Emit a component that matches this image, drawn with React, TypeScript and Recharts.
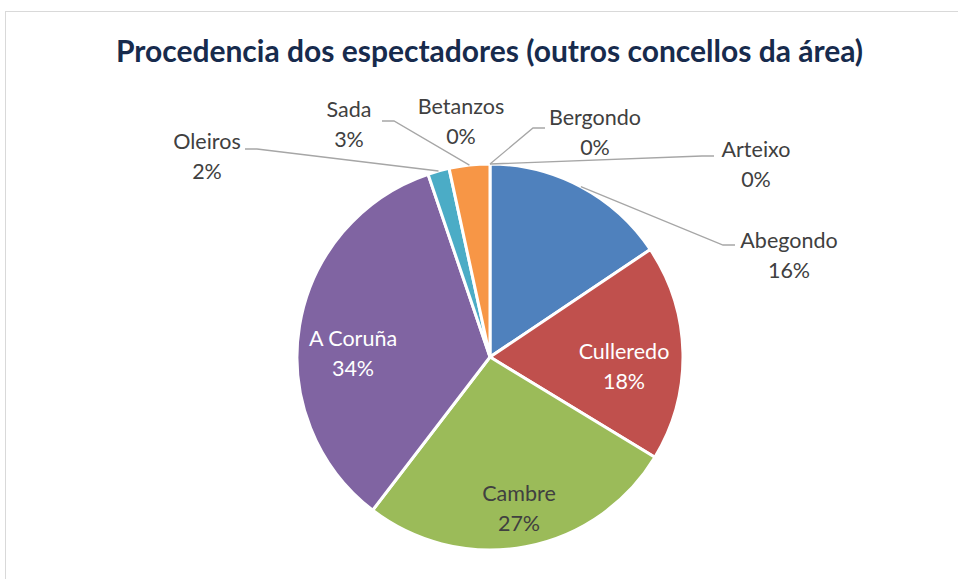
import { PieChart, Pie, Cell } from 'recharts';

const concellos = ['Abegondo', 'Culleredo', 'Cambre', 'A Coruña', 'Oleiros', 'Sada', 'Betanzos', 'Bergondo', 'Arteixo'];
const porcentaxes = [15.6, 18.1, 26.7, 34.4, 1.8, 3.4, 0, 0, 0];
const cores = ['#4F81BD', '#C0504D', '#9BBB59', '#8064A2', '#4BACC6', '#F79646', '#2C4D75', '#772C2A', '#5F7530'];

// where each label sits relative to the pie centre, and where its leader line starts
const etiquetas: Record<string, { dx: number; dy: number; color: string; line?: [number, number] }> = {
  Abegondo: { dx: 299, dy: -102, color: '#404040', line: [-54, -10] },
  Culleredo: { dx: 134, dy: 9, color: '#FFFFFF' },
  Cambre: { dx: 29, dy: 151, color: '#404040' },
  'A Coruña': { dx: -137, dy: -4, color: '#FFFFFF' },
  Oleiros: { dx: -283, dy: -201, color: '#404040', line: [38, -7] },
  Sada: { dx: -141, dy: -233, color: '#404040', line: [33, -3] },
  Betanzos: { dx: -29, dy: -236, color: '#404040' },
  Bergondo: { dx: 105, dy: -225, color: '#404040', line: [-50, -4] },
  Arteixo: { dx: 266, dy: -193, color: '#404040', line: [-42, -8] },
};

const data = concellos.map((nome, i) => ({ nome, valor: porcentaxes[i] }));
const total = porcentaxes.reduce((a, b) => a + b, 0);

const RAD = Math.PI / 180;

function renderEtiqueta(props: any) {
  const { cx, cy, midAngle, outerRadius, payload } = props;
  const nome = payload.nome as string;
  const spot = etiquetas[nome];
  const x = cx + spot.dx;
  const y = cy + spot.dy;
  const pct = `${Math.round((payload.valor / total) * 100)}%`;
  let line = null;
  if (spot.line) {
    const ax = x + spot.line[0];
    const ay = y + spot.line[1];
    const ex = ax + (spot.line[0] > 0 ? 12 : -12);
    const px = cx + outerRadius * Math.cos(-midAngle * RAD);
    const py = cy + outerRadius * Math.sin(-midAngle * RAD);
    line = <polyline points={`${ax},${ay} ${ex},${ay} ${px},${py}`} fill="none" stroke="#A6A6A6" strokeWidth={1.3} />;
  }
  return (
    <g key={nome}>
      {line}
      <text x={x} y={y - 15} textAnchor="middle" dominantBaseline="central" fill={spot.color} fontSize={21.5} fontFamily="Lato">
        {nome}
      </text>
      <text x={x} y={y + 15} textAnchor="middle" dominantBaseline="central" fill={spot.color} fontSize={21.5} fontFamily="Lato">
        {pct}
      </text>
    </g>
  );
}

export default function App() {
  return (
    <div style={{ position: 'absolute', left: 0, top: 0, width: 958, height: 579, overflow: 'hidden', background: '#fff' }}>
      <div style={{ position: 'absolute', left: 5, top: 11, width: 1000, height: 620, border: '1px solid #D9D9D9' }} />
      <div
        style={{
          position: 'absolute', left: 0, top: 30, width: 979, textAlign: 'center',
          fontFamily: 'Lato', fontWeight: 700, fontSize: 30, color: '#172B4D', lineHeight: '40px',
        }}
      >
        Procedencia dos espectadores (outros concellos da área)
      </div>
      <div style={{ position: 'absolute', left: 0, top: 0 }}>
        <PieChart width={958} height={579} margin={{ top: 0, right: 0, bottom: 0, left: 0 }}>
          <Pie
            data={data}
            dataKey="valor"
            nameKey="nome"
            cx={490}
            cy={357}
            outerRadius={193}
            startAngle={90}
            endAngle={-270}
            stroke="#FFFFFF"
            strokeWidth={3}
            label={renderEtiqueta}
            labelLine={false}
            isAnimationActive={false}
          >
            {data.map((d, i) => (
              <Cell key={d.nome} fill={cores[i]} />
            ))}
          </Pie>
        </PieChart>
      </div>
    </div>
  );
}
